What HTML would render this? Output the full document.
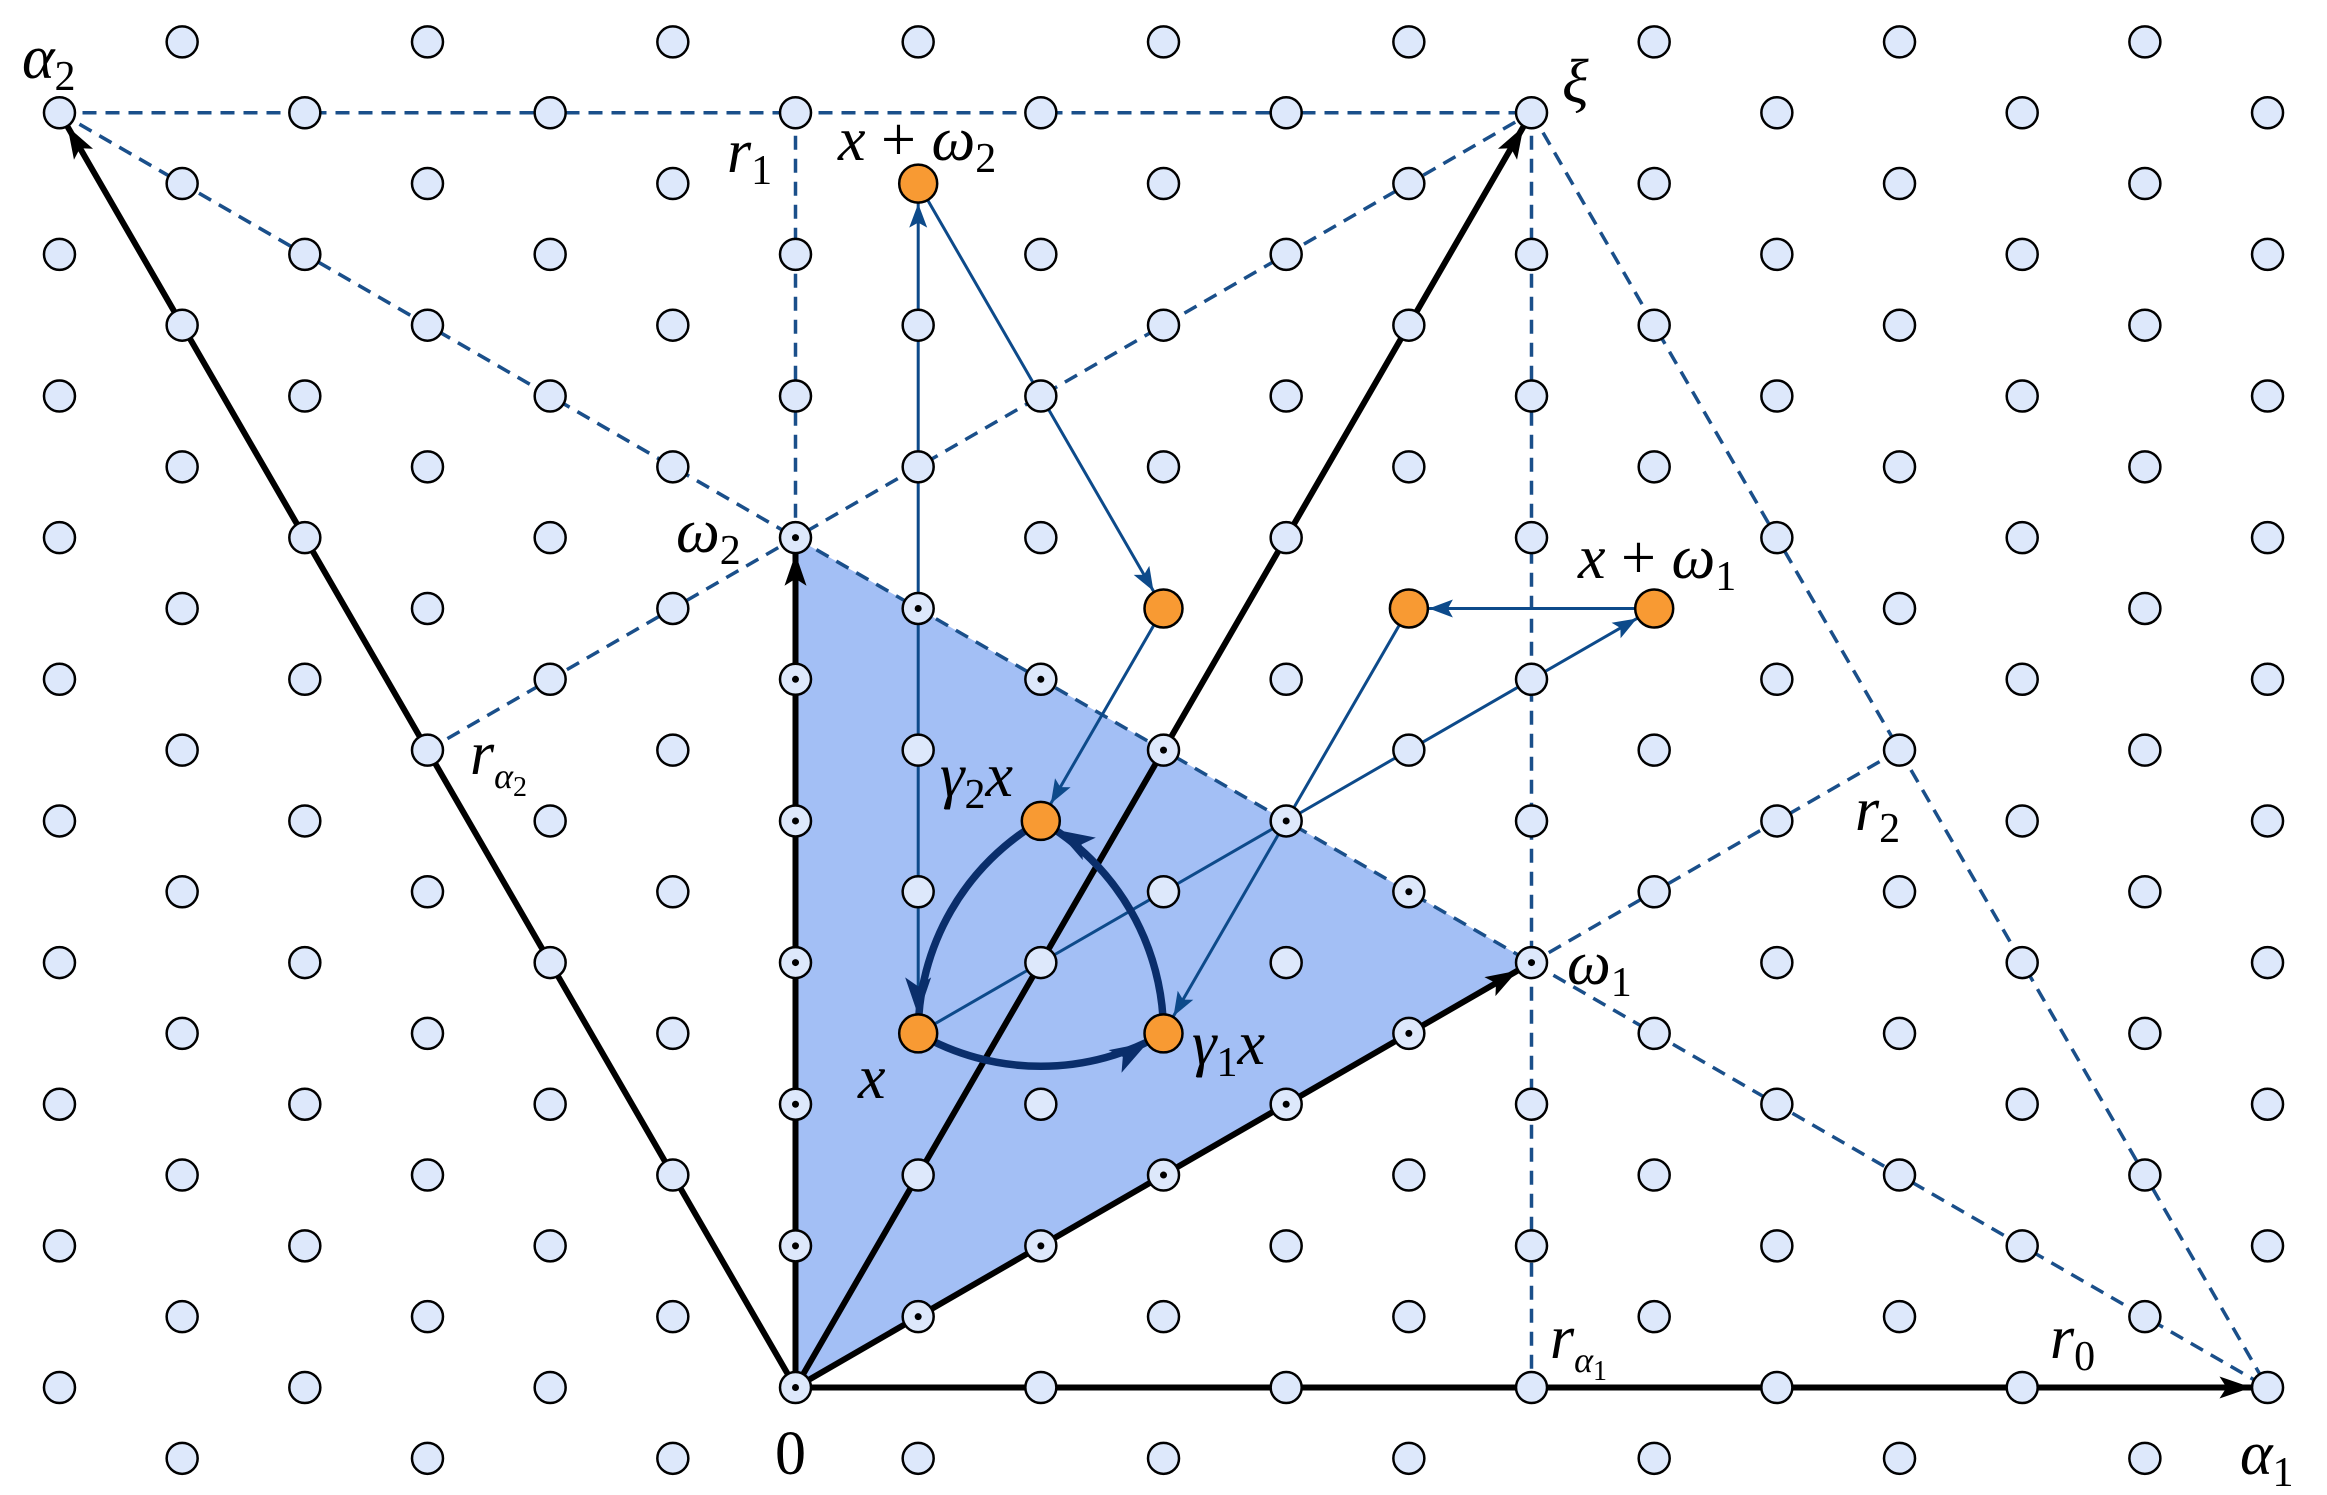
<!DOCTYPE html>
<html><head><meta charset="utf-8"><style>
html,body{margin:0;padding:0;background:#fff}
svg{display:block}
text{font-family:"Liberation Serif","DejaVu Serif",serif;font-style:italic;fill:#000}
.s{font-style:normal}
</style></head><body>
<svg id="sv" width="2327" height="1495" viewBox="0 0 2327 1495" xmlns="http://www.w3.org/2000/svg">
<defs>
<marker id="ab" markerUnits="userSpaceOnUse" markerWidth="1" markerHeight="1" refX="16" refY="0" orient="auto" style="overflow:visible">
<path d="M0,0 L-32,-11 L-25,0 L-32,11 Z" fill="#000"/></marker>
<marker id="at" markerUnits="userSpaceOnUse" markerWidth="1" markerHeight="1" refX="20" refY="0" orient="auto" style="overflow:visible">
<path d="M0,0 L-24,-9 L-19,0 L-24,9 Z" fill="#0d4a8a"/></marker>
<marker id="ad" markerUnits="userSpaceOnUse" markerWidth="1" markerHeight="1" refX="18" refY="0" orient="auto" style="overflow:visible">
<path d="M0,0 L-38,-13 L-29,0 L-38,13 Z" fill="#0a2e6b"/></marker>
</defs>
<polygon points="795.5,1387.5 1531.5,962.6 795.5,537.7" fill="#a3bff5"/>
<g stroke="#1a4f8a" stroke-width="3.5" stroke-dasharray="14 9" fill="none">
<line x1="59.5" y1="112.7" x2="1531.5" y2="112.7"/>
<line x1="59.5" y1="112.7" x2="2267.5" y2="1387.5"/>
<line x1="795.5" y1="112.7" x2="795.5" y2="537.7"/>
<line x1="1531.5" y1="112.7" x2="1531.5" y2="1387.5"/>
<line x1="1531.5" y1="112.7" x2="2267.5" y2="1387.5"/>
<line x1="427.5" y1="750.1" x2="1531.5" y2="112.7"/>
<line x1="1899.5" y1="750.1" x2="1531.5" y2="962.6"/>
</g>
<g stroke="#000" stroke-width="6" fill="none">
<line x1="795.5" y1="1387.5" x2="2267.5" y2="1387.5" marker-end="url(#ab)"/>
<line x1="795.5" y1="1387.5" x2="59.5" y2="112.7" marker-end="url(#ab)"/>
<line x1="795.5" y1="1387.5" x2="1531.5" y2="112.7" marker-end="url(#ab)"/>
<line x1="795.5" y1="1387.5" x2="1531.5" y2="962.6" marker-end="url(#ab)"/>
<line x1="795.5" y1="1387.5" x2="795.5" y2="537.7" marker-end="url(#ab)"/>
</g>
<g stroke="#0d4a8a" stroke-width="3" fill="none">
<line x1="918.2" y1="1033.4" x2="918.2" y2="183.6" marker-end="url(#at)"/>
<line x1="918.2" y1="183.6" x2="1163.5" y2="608.5" marker-end="url(#at)"/>
<line x1="1163.5" y1="608.5" x2="1040.8" y2="820.9" marker-end="url(#at)"/>
<line x1="918.2" y1="1033.4" x2="1654.2" y2="608.5" marker-end="url(#at)"/>
<line x1="1654.2" y1="608.5" x2="1408.9" y2="608.5" marker-end="url(#at)"/>
<line x1="1408.9" y1="608.5" x2="1163.5" y2="1033.4" marker-end="url(#at)"/>
</g>
<g stroke="#0a2e6b" stroke-width="7.5" fill="none">
<path d="M1040.8,820.9 A245,245 0 0 0 918.2,1033.4" marker-end="url(#ad)"/>
<path d="M918.2,1033.4 A245,245 0 0 0 1163.5,1033.4" marker-end="url(#ad)"/>
<path d="M1163.5,1033.4 A245,245 0 0 0 1040.8,820.9" marker-end="url(#ad)"/>
</g>
<g id="lat" stroke="#000" stroke-width="2.5" fill="#dde8fb"></g>
<g stroke="#000" stroke-width="2.5" fill="#f89a33">
<circle cx="918.2" cy="1033.4" r="19"/>
<circle cx="1163.5" cy="1033.4" r="19"/>
<circle cx="1040.8" cy="820.9" r="19"/>
<circle cx="918.2" cy="183.6" r="19"/>
<circle cx="1654.2" cy="608.5" r="19"/>
<circle cx="1163.5" cy="608.5" r="19"/>
<circle cx="1408.9" cy="608.5" r="19"/>
</g>
<g font-size="62">
<text x="22" y="78">α<tspan class="s" font-size="42" dy="12">2</tspan></text>
<text x="1562" y="102">ξ</text>
<text x="727" y="172">r<tspan class="s" font-size="42" dy="12">1</tspan></text>
<text x="838" y="160">x <tspan class="s">+</tspan> ω<tspan class="s" font-size="42" dy="12">2</tspan></text>
<text x="676" y="552">ω<tspan class="s" font-size="42" dy="12">2</tspan></text>
<text x="470" y="774">r<tspan font-size="36" dy="14">α</tspan><tspan class="s" font-size="28" dy="8">2</tspan></text>
<text x="940" y="796">γ<tspan class="s" font-size="42" dy="12">2</tspan><tspan dy="-12">x</tspan></text>
<text x="1578" y="578">x <tspan class="s">+</tspan> ω<tspan class="s" font-size="42" dy="12">1</tspan></text>
<text x="1855" y="830">r<tspan class="s" font-size="42" dy="12">2</tspan></text>
<text x="1567" y="984">ω<tspan class="s" font-size="42" dy="12">1</tspan></text>
<text x="858" y="1098">x</text>
<text x="1192" y="1064">γ<tspan class="s" font-size="42" dy="12">1</tspan><tspan dy="-12">x</tspan></text>
<text x="1550" y="1358">r<tspan font-size="36" dy="14">α</tspan><tspan class="s" font-size="28" dy="8">1</tspan></text>
<text x="2050" y="1358">r<tspan class="s" font-size="42" dy="12">0</tspan></text>
<text class="s" x="775" y="1474">0</text>
<text x="2240" y="1474">α<tspan class="s" font-size="42" dy="12">1</tspan></text>
</g>
</svg>
<script>
(function(){
var g=document.getElementById('lat'),ns='http://www.w3.org/2000/svg';
var h=122.67,v=70.82,ox=795.5,oy=1387.5;
function dotted(j,k){
 if(j==0&&k>=0&&k<=12&&k%2==0)return true;
 if(j==k&&j>=0&&j<=6)return true;
 if(j+k==12&&j>=0&&j<=6)return true;
 return false;}
var orange={'1,5':1,'3,5':1,'2,8':1,'1,17':1,'7,11':1,'3,11':1,'5,11':1};
for(var k=-1;k<=19;k++){
 for(var j=-8;j<=14;j++){
  if(((j+k)%2+2)%2!=0)continue;
  var x=ox+j*h,y=oy-k*v;
  if(x<20||x>2310)continue;
  if(orange[j+','+k])continue;
  var c=document.createElementNS(ns,'circle');
  c.setAttribute('cx',x);c.setAttribute('cy',y);c.setAttribute('r',15.5);
  g.appendChild(c);
  if(dotted(j,k)){
   var d=document.createElementNS(ns,'circle');
   d.setAttribute('cx',x);d.setAttribute('cy',y);d.setAttribute('r',3.5);
   d.setAttribute('fill','#000');d.setAttribute('stroke','none');
   g.appendChild(d);}
 }}
})();
</script>
</body></html>
